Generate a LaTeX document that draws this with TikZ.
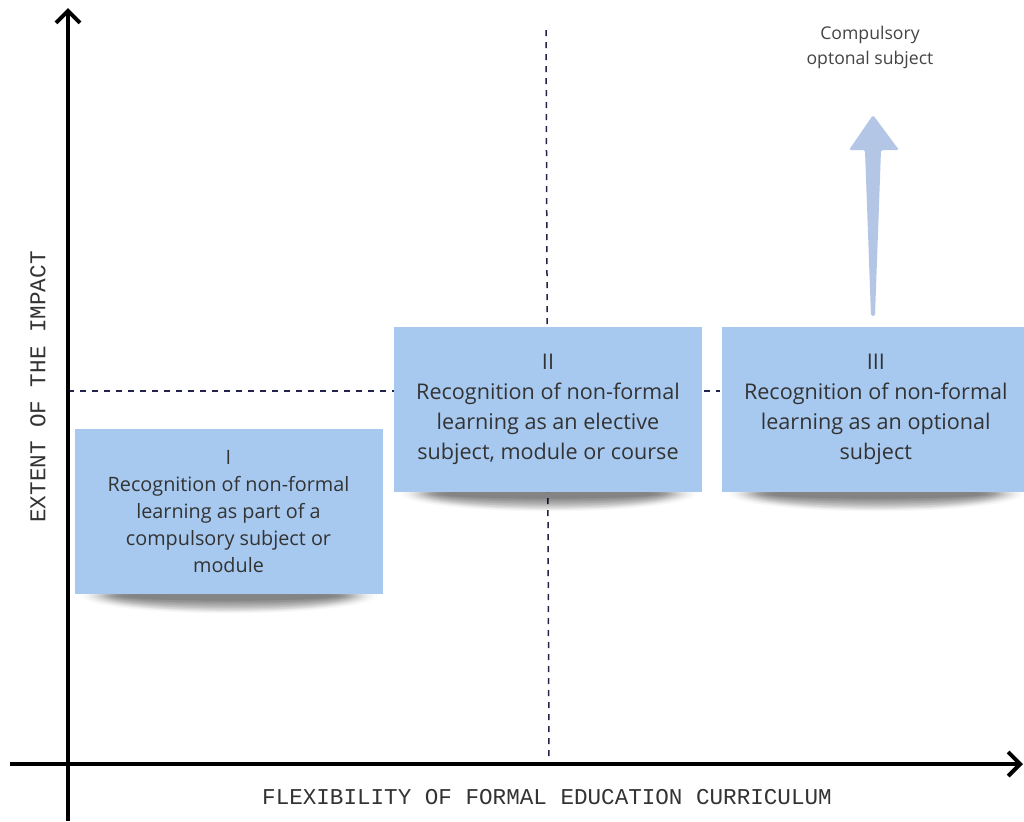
\documentclass[tikz,border=0pt]{standalone}
\usepackage{fontspec}
\setmainfont{Open Sans}
\setmonofont{Liberation Mono}
\usepackage{tikz}
\usetikzlibrary{calc,positioning}
\usetikzlibrary{arrows.meta}
\usetikzlibrary{fadings,backgrounds}
\usepackage{xcolor}
\definecolor{notefill}{HTML}{A7C9F0}
\definecolor{notetext}{HTML}{333333}
\definecolor{guideblue}{HTML}{22224A}
\definecolor{arrowblue}{HTML}{B4C6E6}
\definecolor{labelgray}{HTML}{444444}

\begin{document}
\begin{tikzpicture}[x=0.5pt, y=-0.5pt,
		note/.style = {fill=notefill, text=notetext, align=center, inner sep=0pt,
			minimum width=154pt, minimum height=82.5pt,
			font=\fontsize{10.8}{15}\selectfont},
		axis/.style = {line width=2pt, -{Straight Barb[length=6pt, width=12pt]}},
		guide/.style = {draw=guideblue, line width=0.75pt, dash pattern=on 3pt off 3pt},
		softshadow/.style = {fill=black, opacity=0.1, path fading=circle with fuzzy edge 20 percent},
		axislabel/.style = {font=\ttfamily\fontsize{11.3}{13}\selectfont, text=black!80}]
		\useasboundingbox (0,0) rectangle (1024,821);
		% notes
		\node[note, font=\fontsize{9.9}{13.5}\selectfont] (I) at (228.5,511.5)
			{I\\Recognition of non-formal\\learning as part of a\\compulsory subject or\\module};
		\node[note] (II) at (548,409.5)
			{II\\Recognition of non-formal\\learning as an elective\\subject, module or course};
		\node[note] (III) [right=9.5pt of II]
			{III\\Recognition of non-formal\\learning as an optional\\subject};
		% guides and shadows behind the notes
		\coordinate (vtop) at (546,30);
		\coordinate (vbot) at (549,764);
		\coordinate (hleft) at (68,391);
		\coordinate (hright) at (720,391);
		\begin{scope}[on background layer]
			\fill[white] (0,0) rectangle (1024,821);
			\draw[guide] (vtop) -- (vbot);
			\draw[guide] (hleft) -- (hright);
			\foreach \n in {I,II,III}
				\foreach \r in {0,...,5}
					\fill[softshadow] ($(\n.south)+(0,1)$) ellipse [x radius=150-5*\r, y radius=18-2.5*\r];
		\end{scope}
		% axes
		\coordinate (ybot) at (68,821);
		\coordinate (ytop) at (68,8);
		\coordinate (xleft) at (10,764);
		\coordinate (xright) at (1023,764);
		\draw[axis] (ybot) -- (ytop);
		\draw[axis] (xleft) -- (xright);
		\node[axislabel] (xlab) at (547,797) {FLEXIBILITY OF FORMAL EDUCATION CURRICULUM};
		\node[axislabel, rotate=90] (ylab) at (38,387) {EXTENT OF THE IMPACT};
		% upward arrow
		\coordinate (tail) at (873,316);
		\coordinate (tip) at (873,115);
		\fill[arrowblue, rounded corners=0.8pt] ($(tail)+(-2,0)$) -- ($(tip)+(-8,35)$) -- ($(tip)+(-24,35)$)
			-- (tip) -- ($(tip)+(26,35)$) -- ($(tip)+(8,35)$) -- ($(tail)+(2,0)$) -- cycle;
		\node[text=labelgray, align=center, font=\fontsize{8.8}{12.5}\selectfont] (top) at (870,47)
			{Compulsory\\optonal subject};
	\end{tikzpicture}
\end{document}
